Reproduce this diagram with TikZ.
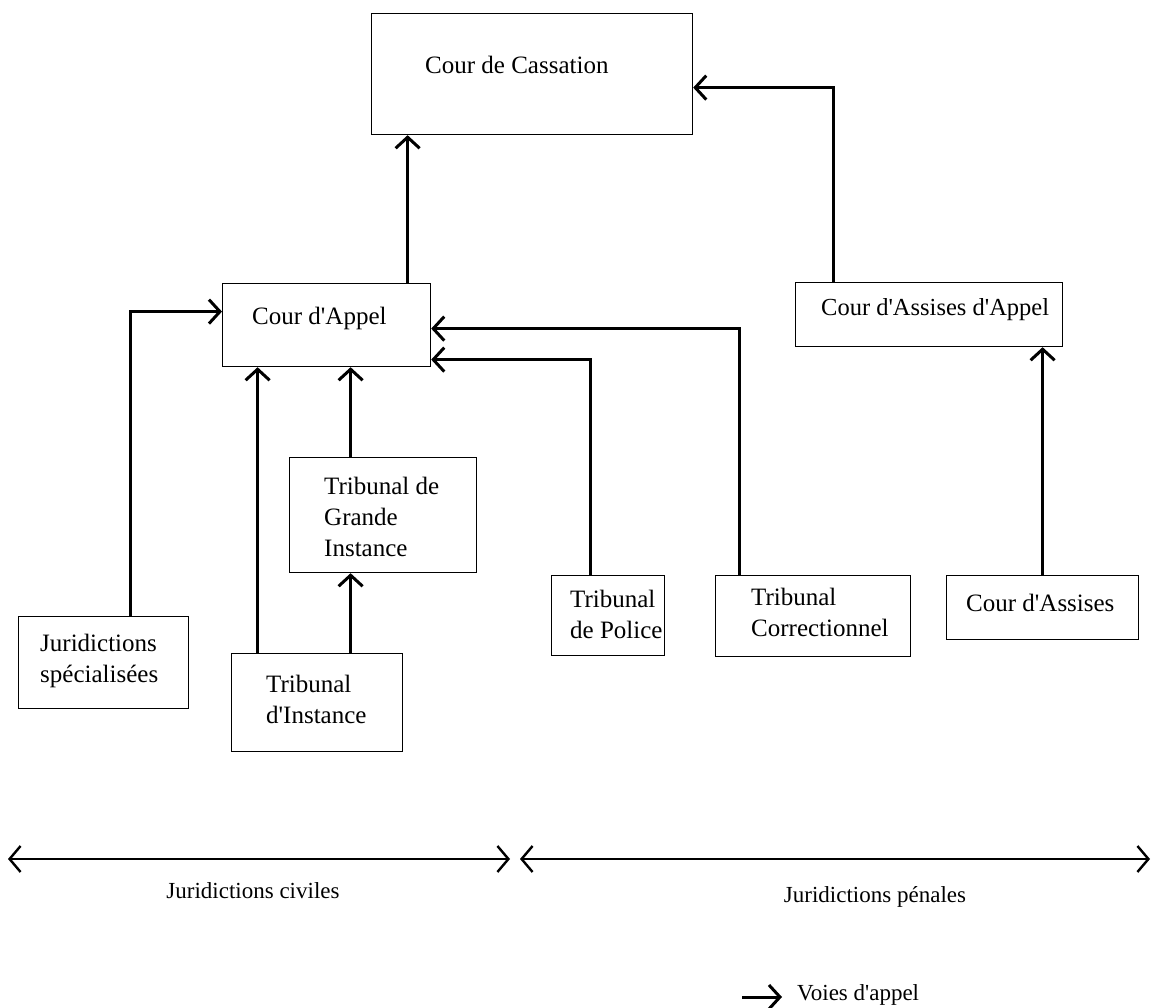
\documentclass[tikz,border=0pt]{standalone}
\usepackage{fontspec}
\setmainfont{Liberation Serif}
\usetikzlibrary{arrows.meta}
\newcommand\apo{\textquotesingle}
\begin{document}
\begin{tikzpicture}[x=1pt,y=-1pt,
  box/.style={draw,line width=1.2pt,rectangle,inner sep=0pt,anchor=north west},
  lbl/.style={font=\fontsize{25}{31}\selectfont,align=left,inner sep=0pt,anchor=west},
  small/.style={font=\fontsize{23}{28}\selectfont,inner sep=0pt},
  conn/.style={line width=3pt,-{Straight Barb[length=11pt,width=24pt,line width=3pt]}},
  span/.style={line width=2.6pt,{Straight Barb[length=11pt,width=26pt,line width=2.4pt]}-{Straight Barb[length=11pt,width=26pt,line width=2.4pt]}}]
\useasboundingbox (0,0) rectangle (1153,1008);
% boxes
\node[box,minimum width=321pt,minimum height=121pt] (cass) at (371,13) {};
\node[box,minimum width=208pt,minimum height=83pt] (appel) at (222,283) {};
\node[box,minimum width=267pt,minimum height=64pt] (aappel) at (795,282) {};
\node[box,minimum width=187pt,minimum height=115pt] (tgi) at (289,457) {};
\node[box,minimum width=170pt,minimum height=92pt] (jur) at (18,616) {};
\node[box,minimum width=171pt,minimum height=98pt] (ti) at (231,653) {};
\node[box,minimum width=113pt,minimum height=80pt] (tp) at (551,575) {};
\node[box,minimum width=195pt,minimum height=81pt] (tc) at (715,575) {};
\node[box,minimum width=192pt,minimum height=64pt] (ca) at (946,575) {};
% labels
\node[lbl] (tcass) at (425,65) {Cour de Cassation};
\node[lbl] (tappel) at (252,318) {Cour d\apo Appel};
\node[lbl,font=\fontsize{24.5}{31}\selectfont] (taappel) at (821,310) {Cour d\apo Assises d\apo Appel};
\node[lbl] (ttgi) at (324,517) {Tribunal de\\Grande\\Instance};
\node[lbl] (tjur) at (40,661) {Juridictions\\spécialisées};
\node[lbl] (tti) at (266,699) {Tribunal\\d\apo Instance};
\node[lbl] (ttp) at (570,614) {Tribunal\\de Police};
\node[lbl] (ttc) at (751,612) {Tribunal\\Correctionnel};
\node[lbl] (tca) at (966,603) {Cour d\apo Assises};
% connector anchors
\coordinate (c1) at ([xshift=81pt]appel.north);
\coordinate (c2) at ([xshift=-95.5pt]aappel.north);
\coordinate (c2e) at ([yshift=-13.5pt]cass.east);
\coordinate (c3) at ([xshift=27pt]jur.north);
\coordinate (c3e) at ([yshift=13.5pt]appel.west);
\coordinate (c4) at ([xshift=-59.5pt]ti.north);
\coordinate (c5) at ([xshift=33.5pt]ti.north);
\coordinate (c6) at ([xshift=-32.5pt]tgi.north);
\coordinate (c7) at ([xshift=-17.5pt]tp.north);
\coordinate (c7e) at ([yshift=-34.5pt]appel.east);
\coordinate (c8) at ([xshift=-73.5pt]tc.north);
\coordinate (c8e) at ([yshift=-3.5pt]appel.east);
% connectors
\draw[conn] (c1) -- (c1 |- cass.south);
\draw[conn] (c2) |- (c2e);
\draw[conn] (c3) |- (c3e);
\draw[conn] (c4) -- (c4 |- appel.south);
\draw[conn] (c5) -- (c5 |- tgi.south);
\draw[conn] (c6) -- (c6 |- appel.south);
\draw[conn] (c7) |- (c7e);
\draw[conn] (c8) |- (c8e);
\draw[conn] (ca.north) -- (aappel.south -| ca.north);
% bottom spans
\coordinate (civl) at (8,859);
\coordinate (civr) at (510,859);
\coordinate (penl) at (520,859);
\coordinate (penr) at (1150,859);
\draw[span] (civl) -- (civr);
\draw[span] (penl) -- (penr);
\node[small] (tciv) at (253,891) {Juridictions civiles};
\node[small] (tpen) at (875,897) {Juridictions pénales};
% legend
\coordinate (lega) at (742,997);
\coordinate (legb) at (782,997);
\draw[conn] (lega) -- (legb);
\node[small,anchor=west] (tleg) at (797,995) {Voies d\apo appel};
\end{tikzpicture}
\end{document}
